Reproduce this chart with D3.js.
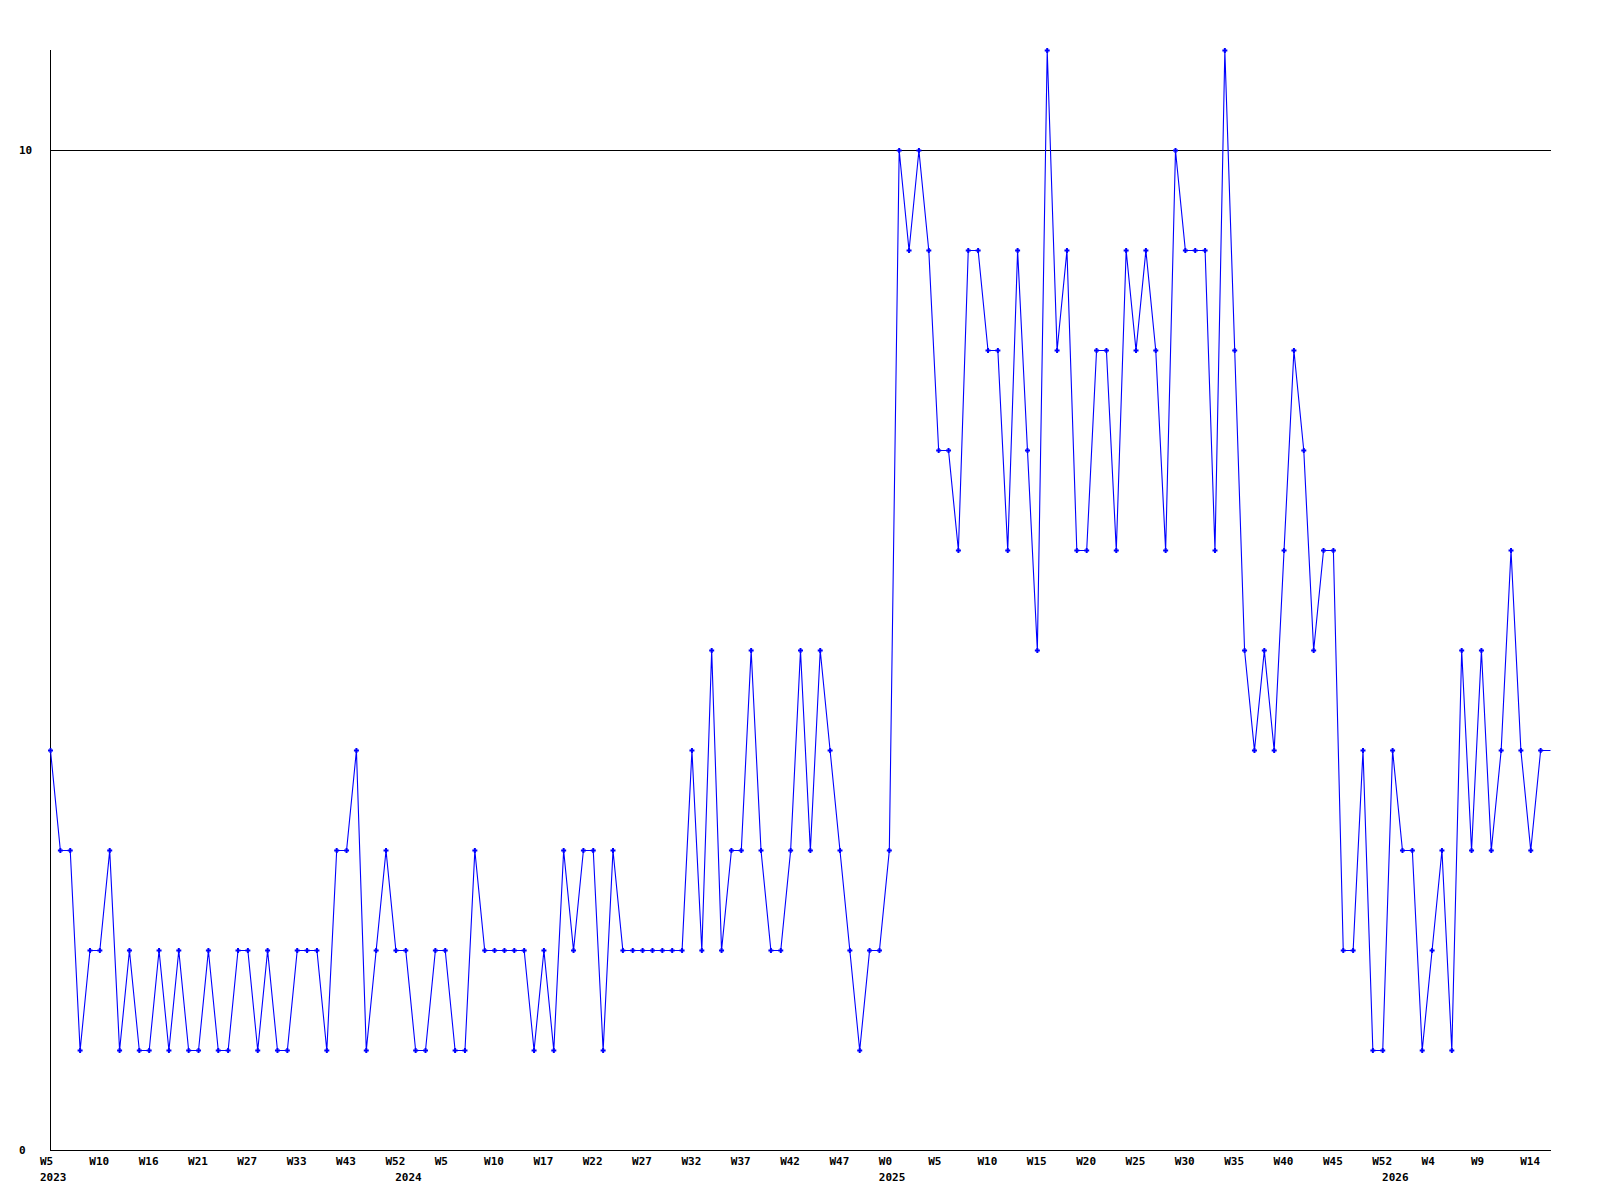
<!DOCTYPE html>
<html>
<head>
<meta charset="utf-8">
<script src="https://cdn.jsdelivr.net/npm/d3@7"></script>
<style>
  body { margin: 0; background: #fff; }
  text { font-family: "DejaVu Sans Mono", monospace; font-weight: bold; font-size: 11px; fill: #000; }
</style>
</head>
<body>
<script>
// weekly counts, one per point (index 0 = 2023 W5)
var values = [
  4,3,3,1,2,2,3,1,2,1,
  1,2,1,2,1,1,2,1,1,2,
  2,1,2,1,1,2,2,2,1,3,
  3,4,1,2,3,2,2,1,1,2,
  2,1,1,3,2,2,2,2,2,1,
  2,1,3,2,3,3,1,3,2,2,
  2,2,2,2,2,4,2,5,2,3,
  3,5,3,2,2,3,5,3,5,4,
  3,2,1,2,2,3,10,9,10,9,
  7,7,6,9,9,8,8,6,9,7,
  5,11,8,9,6,6,8,8,6,9,
  8,9,8,6,10,9,9,9,6,11,
  8,5,4,5,4,6,8,7,5,6,
  6,2,2,4,1,1,4,3,3,1,
  2,3,1,5,3,5,3,4,6,4,
  3,4
];

// week labels, one every 5 points
var weekLabels = ["W5","W10","W16","W21","W27","W33","W43","W52",
  "W5","W10","W17","W22","W27","W32","W37","W42","W47",
  "W0","W5","W10","W15","W20","W25","W30","W35","W40","W45","W52",
  "W4","W9","W14"];

// year labels and the point index where each year starts
var years = ["2023","2024","2025","2026"];
var yearStart = [0, 36, 85, 136];

var yTicks = [0, 10];

var svg = d3.select("body").append("svg")
    .attr("width", 1600)
    .attr("height", 1200);

var x = d3.scaleLinear().domain([0, 152]).range([50, 1550]);
var y = d3.scaleLinear().domain([0, 11]).range([1150, 50]);

// grid line at 10
svg.append("line")
    .attr("x1", x(0)).attr("x2", x(152) + 1)
    .attr("y1", y(10) + 0.5).attr("y2", y(10) + 0.5)
    .attr("stroke", "#000")
    .attr("shape-rendering", "crispEdges");

// axes
svg.append("line")
    .attr("x1", x(0) + 0.5).attr("x2", x(0) + 0.5)
    .attr("y1", y(11)).attr("y2", y(0) + 1)
    .attr("stroke", "#000")
    .attr("shape-rendering", "crispEdges");
svg.append("line")
    .attr("x1", x(0)).attr("x2", x(152) + 1)
    .attr("y1", y(0) + 0.5).attr("y2", y(0) + 0.5)
    .attr("stroke", "#000")
    .attr("shape-rendering", "crispEdges");

// y labels
svg.selectAll(".ylab")
  .data(yTicks)
  .enter()
  .append("text")
    .attr("x", 19)
    .attr("y", function(d) { return y(d) + 4; })
    .text(function(d) { return d; });

// week labels
svg.selectAll(".wlab")
  .data(weekLabels)
  .enter()
  .append("text")
    .attr("x", function(d, i) { return x(i * 5) - 10; })
    .attr("y", 1165)
    .text(function(d) { return d; });

// year labels
svg.selectAll(".ylab2")
  .data(years)
  .enter()
  .append("text")
    .attr("x", function(d, i) { return x(yearStart[i]) - 10; })
    .attr("y", 1181)
    .text(function(d) { return d; });

// the line; last value runs on to the right edge
var pts = values.map(function(v, i) { return [i, v]; });
pts.push([152, values[values.length - 1]]);

var line = d3.line()
    .x(function(d) { return x(d[0]) + 0.5; })
    .y(function(d) { return y(d[1]) + 0.5; });

svg.append("path")
    .datum(pts)
    .attr("d", line)
    .attr("fill", "none")
    .attr("stroke", "#0000ff")
    .attr("stroke-width", 1.1);

// point markers
svg.selectAll(".pt")
  .data(values)
  .enter()
  .append("path")
    .attr("d", "M-2.5,0H2.5M0,-2.5V2.5")
    .attr("transform", function(d, i) { return "translate(" + (x(i) + 0.5) + "," + (y(d) + 0.5) + ")"; })
    .attr("stroke", "#0000ff")
    .attr("stroke-width", 2);
</script>
</body>
</html>
